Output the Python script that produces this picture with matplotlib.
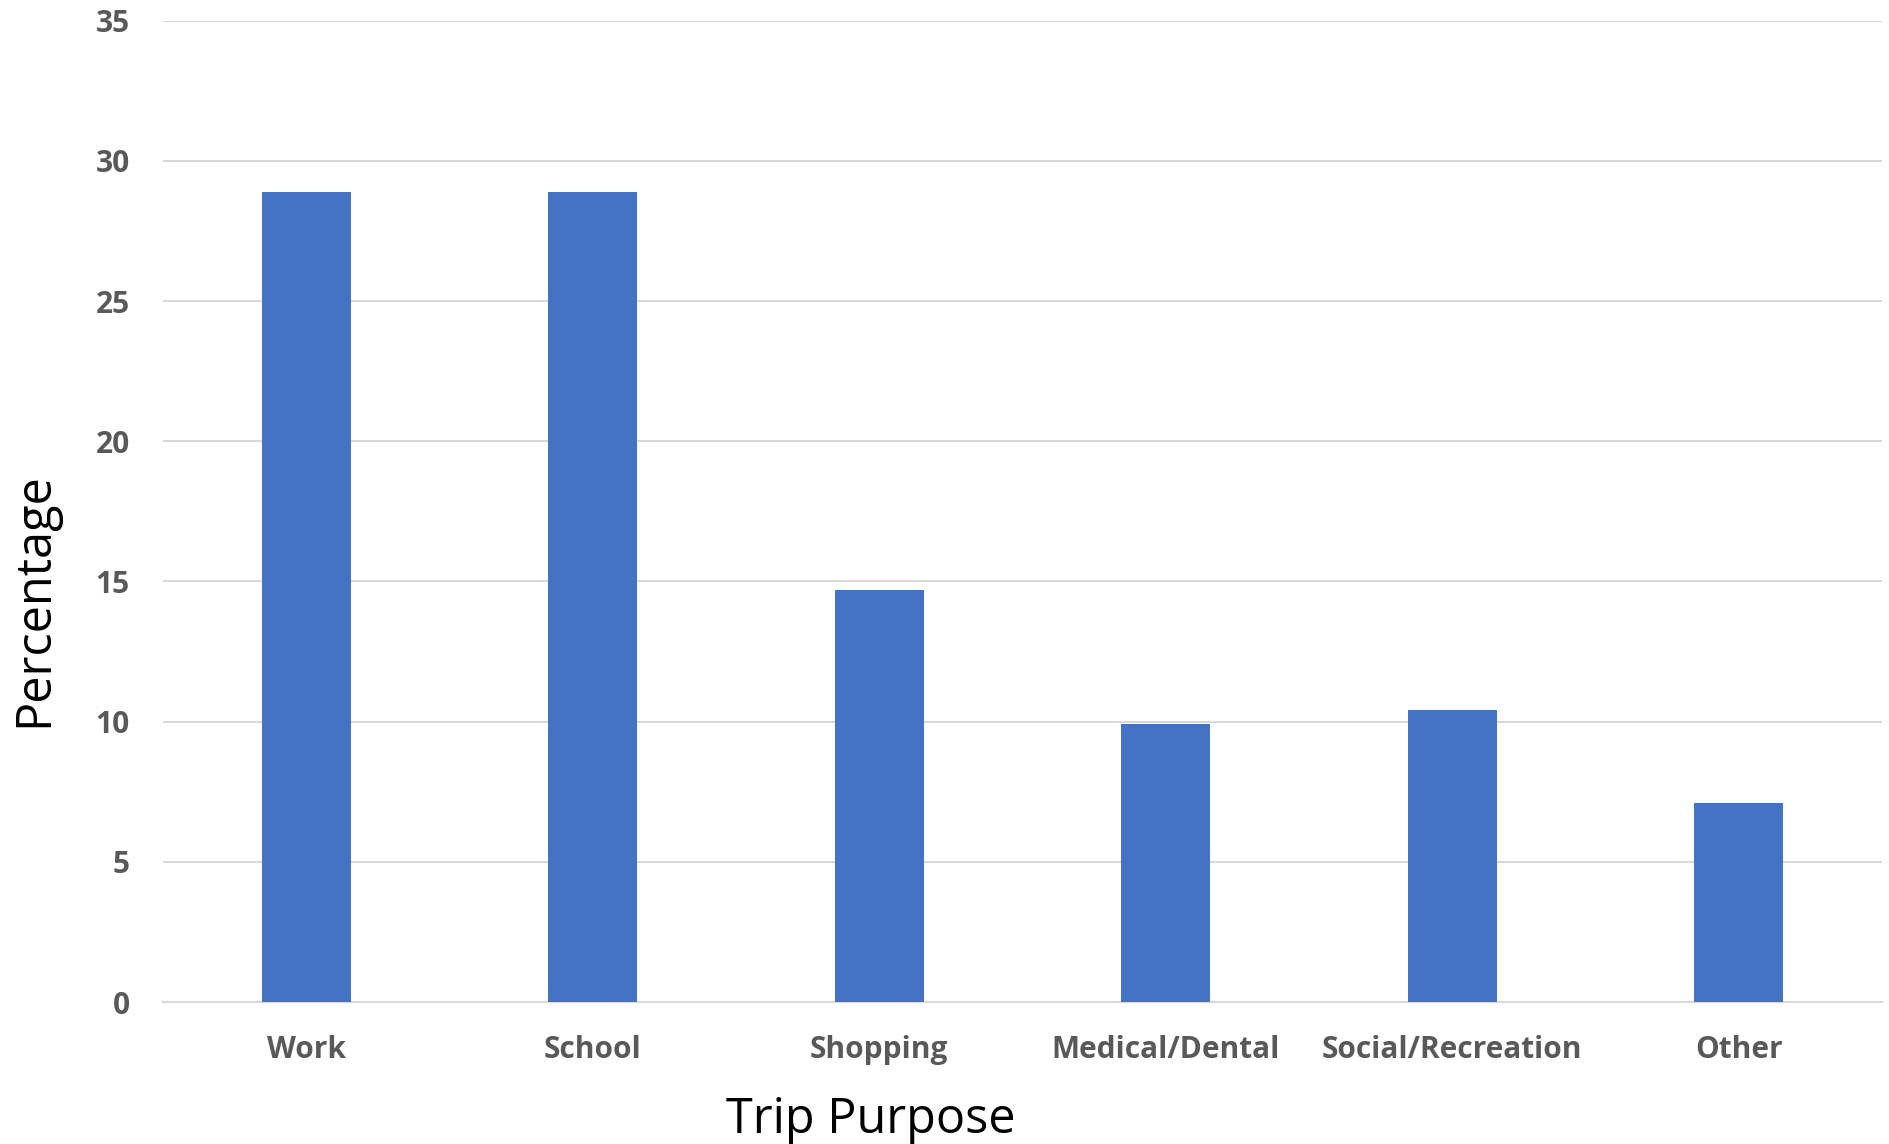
import matplotlib.pyplot as plt

categories = ['Work', 'School', 'Shopping', 'Medical/Dental', 'Social/Recreation', 'Other']
percentages = [28.9, 28.9, 14.7, 9.9, 10.4, 7.1]
y_ticks = [0, 5, 10, 15, 20, 25, 30, 35]

plt.rcParams['font.family'] = ['Open Sans', 'DejaVu Sans']

fig = plt.figure(figsize=(18.89, 11.44), dpi=100)
ax = fig.add_axes([0.0863, 0.1241, 0.91, 0.8579])

x = range(len(categories))
ax.bar(x, percentages, width=0.31, color='#4472C4', zorder=3)

ax.set_xlim(-0.5, len(categories) - 0.5)
ax.set_ylim(0, 35)
ax.set_yticks(y_ticks)
ax.set_xticks(list(x))
ax.set_xticklabels(categories)

ax.grid(axis='y', color='#d9d9d9', linewidth=1.5, zorder=0)
for s in ['top', 'right', 'left']:
    ax.spines[s].set_visible(False)
ax.spines['bottom'].set_color('#d9d9d9')
ax.spines['bottom'].set_linewidth(1.5)

ax.tick_params(axis='both', length=0, labelcolor='#595959', labelsize=21.5)
ax.tick_params(axis='y', pad=24)
ax.tick_params(axis='x', pad=24)
for lab in ax.get_xticklabels() + ax.get_yticklabels():
    lab.set_fontweight('bold')

ax.set_xlabel('Trip Purpose', fontsize=35, color='black')
ax.set_ylabel('Percentage', fontsize=35, color='black')
ax.xaxis.label.set_va('center')
ax.yaxis.label.set_va('center')
ax.xaxis.set_label_coords(0.412, -0.12)
ax.yaxis.set_label_coords(-0.075, 0.41)

fig.savefig('out.png', dpi=100)
